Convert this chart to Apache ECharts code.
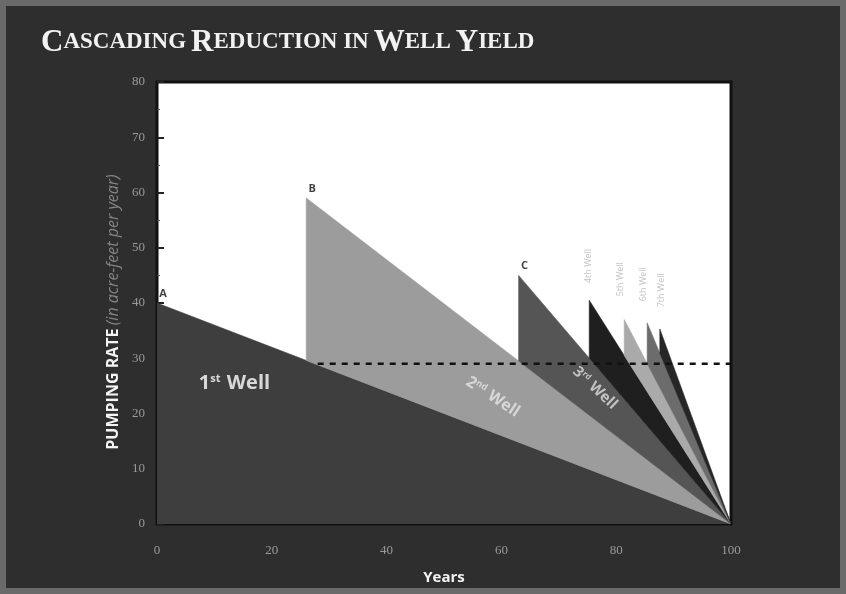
<!DOCTYPE html>
<html>
<head>
<meta charset="utf-8">
<script src="https://cdn.jsdelivr.net/npm/echarts@6/dist/echarts.min.js"></script>
<style>html,body{margin:0;padding:0;background:#2e2e2e;}#c{width:846px;height:594px;}</style>
</head>
<body>
<div id="c"></div>
<script>
// ---- data ----
const wellNames = ['1st Well', '2nd Well', '3rd Well', '4th Well', '5th Well', '6th Well', '7th Well'];
const wellStartYear = [0, 26, 63, 75.3, 81.4, 85.4, 87.6];
const wellStartRate = [40, 59, 45, 40.5, 37, 36.4, 35.3];
const endYear = 100;
const sustainableRate = 29;
const pointLabels = ['A', 'B', 'C'];
const xTicks = [0, 20, 40, 60, 80, 100];
const yTicks = [0, 10, 20, 30, 40, 50, 60, 70, 80];

const wellColors = ['#3e3e3e', '#9c9c9c', '#555555', '#1f1f1f', '#aaaaaa', '#6c6c6c', '#262626'];

// base of each well's band = previous well's decline line at its start year
const wellData = wellStartYear.map((x, i) => {
  let base = 0;
  if (i > 0) {
    const px = wellStartYear[i - 1], pp = wellStartRate[i - 1];
    base = pp * (endYear - x) / (endYear - px);
  }
  return [x, wellStartRate[i], base, i];
});

const chart = echarts.init(document.getElementById('c'), null, {renderer: 'canvas'});

function wellRich(size, color) {
  return {
    n: {fontSize: size, fontWeight: 'bold', color: color, fontFamily: 'Open Sans'},
    s: {fontSize: Math.round(size * 0.55), fontWeight: 'bold', color: color, fontFamily: 'Open Sans', verticalAlign: 'top', padding: [0, 1, Math.round(size * 0.4), 0]}
  };
}

const titleRich = {
  b: {fontFamily: 'Liberation Serif', fontSize: 31, color: '#f2f2f2', fontWeight: 'bold'},
  s: {fontFamily: 'Liberation Serif', fontSize: 23, color: '#f2f2f2', fontWeight: 'bold'}
};

const option = {
  backgroundColor: '#2e2e2e',
  animation: false,
  title: {
    text: '{b|C}{s|ASCADING} {b|R}{s|EDUCTION IN} {b|W}{s|ELL} {b|Y}{s|IELD}',
    left: 36, top: 22,
    textStyle: {rich: titleRich}
  },
  grid: {left: 157, right: 115, top: 82, bottom: 70, show: true, backgroundColor: '#ffffff', borderColor: '#111', borderWidth: 3},
  xAxis: {
    type: 'value', min: 0, max: 100, interval: 20,
    name: 'Years', nameLocation: 'middle', nameGap: 46,
    nameTextStyle: {color: '#f4f4f4', fontSize: 15, fontWeight: 'bold', fontFamily: 'Open Sans'},
    axisLine: {show: false},
    axisTick: {show: false},
    splitLine: {show: false},
    axisLabel: {color: '#9a9a9a', fontSize: 13, fontFamily: 'Liberation Serif', margin: 20,
      customValues: xTicks}
  },
  yAxis: {
    type: 'value', min: 0, max: 80, interval: 10,
    name: '{a|PUMPING RATE} {b|(in acre-feet per year)}', nameLocation: 'middle', nameRotate: 90, nameGap: 36,
    nameTextStyle: {padding: [0, 18, 0, 0], rich: {
      a: {color: '#f4f4f4', fontSize: 16, fontWeight: 'bold', fontFamily: 'Open Sans'},
      b: {color: '#858585', fontSize: 16, fontStyle: 'italic', fontFamily: 'Open Sans'}
    }},
    axisLine: {show: false},
    axisTick: {show: true, inside: true, length: 7, lineStyle: {color: '#222', width: 2}},
    minorTick: {show: true, splitNumber: 2, length: 3, lineStyle: {color: '#555'}},
    splitLine: {show: false},
    axisLabel: {color: '#9a9a9a', fontSize: 13, fontFamily: 'Liberation Serif', margin: 12}
  },
  series: [
    {
      type: 'custom',
      data: wellData,
      clip: true,
      z: 2,
      renderItem: function (params, api) {
        const x = api.value(0), peak = api.value(1), base = api.value(2), i = api.value(3);
        const pts = [api.coord([x, base]), api.coord([x, peak]), api.coord([endYear, 0])];
        if (i === 0) pts.unshift(api.coord([x, 0]));
        return {
          type: 'polygon',
          shape: {points: pts},
          style: {fill: wellColors[i], stroke: wellColors[i], lineWidth: 0.6}
        };
      }
    },
    {
      type: 'line',
      data: [[28, sustainableRate], [endYear, sustainableRate]],
      symbol: 'none', z: 5,
      lineStyle: {color: '#111', width: 2.5, type: [6, 6]}
    },
    {
      type: 'scatter', symbolSize: 0, z: 6,
      data: pointLabels.map((t, i) => ({value: [wellStartYear[i], wellStartRate[i]], name: t})),
      label: {show: true, formatter: p => p.name, color: '#111', fontWeight: 'bold', fontSize: 11,
        fontFamily: 'Open Sans', position: 'top', offset: [6, 0], distance: 4}
    },
    {
      type: 'scatter', symbolSize: 0, z: 6,
      data: [
        {value: [13.5, 25.5], name: wellNames[0], label: {rotate: 0, formatter: '{n|1}{s|st}{n| Well}', rich: wellRich(20, '#ffffff')}},
        {value: [58.5, 23.0], name: wellNames[1], label: {rotate: -33, formatter: '{n|2}{s|nd}{n| Well}', rich: wellRich(16, '#e6e6e6')}},
        {value: [76.3, 24.6], name: wellNames[2], label: {rotate: -43, formatter: '{n|3}{s|rd}{n| Well}', rich: wellRich(15, '#dddddd')}}
      ],
      label: {show: true, position: 'inside'}
    },
    {
      type: 'scatter', symbolSize: 0, z: 6,
      data: [
        {value: [75.1, 46.7], name: wellNames[3]},
        {value: [80.8, 44.3], name: wellNames[4]},
        {value: [84.8, 43.4], name: wellNames[5]},
        {value: [87.8, 42.3], name: wellNames[6]}
      ],
      label: {show: true, position: 'inside', rotate: 90, formatter: p => p.name,
        color: '#b4b4b4', fontSize: 9, fontFamily: 'Open Sans'}
    }
  ],
  graphic: [
    {type: 'rect', shape: {x: 3, y: 3, width: 840, height: 588}, style: {fill: 'none', stroke: '#6a6a6a', lineWidth: 6}, z: 100}
  ]
};

chart.setOption(option);
</script>
</body>
</html>
